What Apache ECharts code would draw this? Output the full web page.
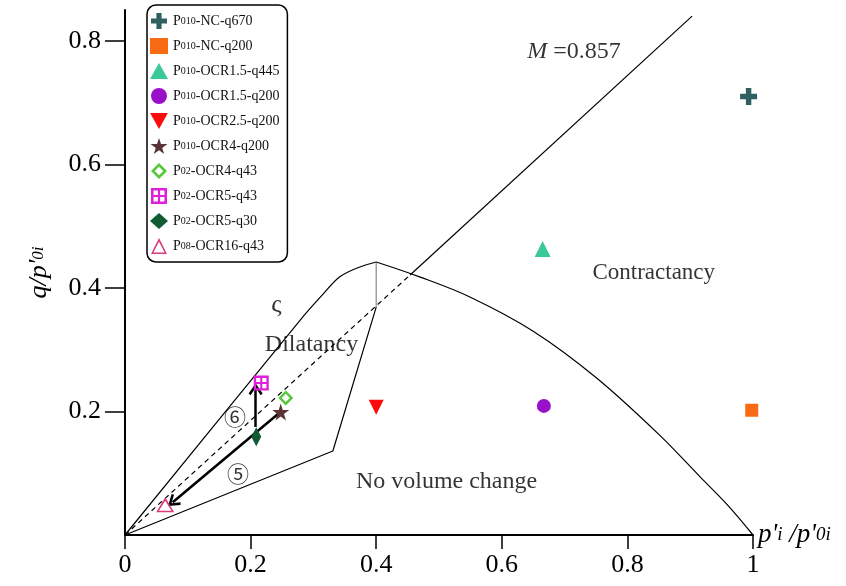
<!DOCTYPE html>
<html>
<head>
<meta charset="utf-8">
<script src="https://cdn.jsdelivr.net/npm/echarts@6/dist/echarts.min.js"></script>
<style>html,body{margin:0;padding:0;background:#fff;}#c{width:846px;height:586px;}</style>
</head>
<body>
<div id="c"></div>
<script>
// ---- data ----
const seriesNames = ['P010-NC-q670','P010-NC-q200','P010-OCR1.5-q445','P010-OCR1.5-q200','P010-OCR2.5-q200','P010-OCR4-q200','P02-OCR4-q43','P02-OCR5-q43','P02-OCR5-q30','P08-OCR16-q43'];
const seriesX = [0.993, 0.998, 0.665, 0.667, 0.400, 0.248, 0.256, 0.217, 0.209, 0.064];
const seriesY = [0.710, 0.202, 0.463, 0.209, 0.207, 0.199, 0.222, 0.246, 0.159, 0.049];
const xTicks = [0, 0.2, 0.4, 0.6, 0.8, 1];
const yTicks = [0.2, 0.4, 0.6, 0.8];
// critical state line M (dashed inside, solid outside)
const mLineX = [0, 0.454, 0.903];
const mLineY = [0, 0.421, 0.840];
// dilatancy zone boundary
const dilUpperX = [0, 0.279, 0.311, 0.342, 0.374, 0.400];
const dilUpperY = [0, 0.348, 0.385, 0.418, 0.434, 0.442];
const dilLowerX = [0, 0.331, 0.400];
const dilLowerY = [0, 0.136, 0.369];
const dilVertX = [0.400, 0.400];
const dilVertY = [0.369, 0.442];
// yield surface
const yieldX = [0.400, 0.469, 0.55, 0.65, 0.75, 0.85, 0.915, 0.96, 1.0];
const yieldY = [0.442, 0.418, 0.385, 0.330, 0.255, 0.163, 0.095, 0.048, 0.0];
// stress-path arrows [x1,y1,x2,y2]
const arrow5 = [0.246, 0.198, 0.076, 0.053];
const arrow6 = [0.208, 0.175, 0.208, 0.236];
// annotations
const annoText = ['M=0.857', 'Contractancy', 'Dilatancy', 'ς', 'No volume change', '⑥', '⑤'];
const annoX = [0.715, 0.842, 0.297, 0.241, 0.512, 0.175, 0.180];
const annoY = [0.782, 0.424, 0.308, 0.372, 0.086, 0.191, 0.100];

const serif = 'Liberation Serif, Times New Roman, serif';
const pair = (xs, ys) => xs.map((x, i) => [x, ys[i]]);

const symbols = [
  'path://M3.4,0 H6.6 V3.4 H10 V6.6 H6.6 V10 H3.4 V6.6 H0 V3.4 H3.4 Z',
  'rect',
  'triangle',
  'circle',
  'path://M0,0 L10,0 L5,9 Z',
  'path://M5,0 L6.18,3.62 L10,3.62 L6.91,5.85 L8.09,9.47 L5,7.24 L1.91,9.47 L3.09,5.85 L0,3.62 L3.82,3.62 Z',
  'path://M5,0 L10,5 L5,10 L0,5 Z M5,2.3 L2.3,5 L5,7.7 L7.7,5 Z',
  'path://M0,0 H10 V10 H0 Z M1.6,1.6 V4.3 H4.3 V1.6 Z M5.7,1.6 V4.3 H8.4 V1.6 Z M1.6,5.7 V8.4 H4.3 V5.7 Z M5.7,5.7 V8.4 H8.4 V5.7 Z',
  'diamond',
  'path://M5,0 L10,10 L0,10 Z M5,2.4 L1.5,9 L8.5,9 Z'
];
const sizes = [17, 13, 16, 14, 15, 17, 15, 15, [10, 19], [18, 15]];
const colors = ['#2f5f5f', '#f96a14', '#3cc99a', '#9810c8', '#fb0b0b', '#5a3434', '#55c83a', '#e020d8', '#0f5c33', '#db3b7c'];

const series = [];
seriesNames.forEach((n, i) => {
  series.push({
    type: 'scatter', name: n, data: [[seriesX[i], seriesY[i]]],
    symbol: symbols[i], symbolSize: sizes[i],
    itemStyle: { color: colors[i], opacity: 1 }, z: 5
  });
});
const lineBase = { type: 'line', symbol: 'none', silent: true, animation: false, smooth: false };
series.push(Object.assign({}, lineBase, { data: pair(mLineX.slice(0, 2), mLineY.slice(0, 2)), lineStyle: { color: '#000', width: 1.2, type: [5, 4] } }));
series.push(Object.assign({}, lineBase, { data: pair(mLineX.slice(1), mLineY.slice(1)), lineStyle: { color: '#000', width: 1.2 } }));
series.push(Object.assign({}, lineBase, { data: pair(dilUpperX, dilUpperY), smooth: 0.3, lineStyle: { color: '#000', width: 1.2 } }));
series.push(Object.assign({}, lineBase, { data: pair(dilLowerX, dilLowerY), lineStyle: { color: '#000', width: 1.2 } }));
series.push(Object.assign({}, lineBase, { data: pair(dilVertX, dilVertY), lineStyle: { color: '#888', width: 1.2 } }));
series.push(Object.assign({}, lineBase, { data: pair(yieldX, yieldY), smooth: 0.35, lineStyle: { color: '#000', width: 1.2 } }));

const chevron = 'path://M5,0 L10,7 L8.6,8.2 L5,3 L1.4,8.2 L0,7 Z';
series.push({
  type: 'scatter', data: [], silent: true,
  markLine: {
    silent: true, animation: false, symbol: ['none', chevron], symbolSize: [14, 12],
    label: { show: false },
    lineStyle: { color: '#000', width: 2.5, type: 'solid' },
    data: [
      [{ coord: [arrow5[0], arrow5[1]] }, { coord: [arrow5[2], arrow5[3]] }],
      [{ coord: [arrow6[0], arrow6[1]] }, { coord: [arrow6[2], arrow6[3]] }]
    ]
  }
});

const annoStyles = [
  { fontSize: 24, formatter: '{i|M} =0.857' },
  { fontSize: 23 },
  { fontSize: 24 },
  { fontSize: 26 },
  { fontSize: 24 },
  { fontSize: 22, fontFamily: 'Noto Sans CJK SC' },
  { fontSize: 22, fontFamily: 'Noto Sans CJK SC' }
];
series.push({
  type: 'scatter', symbolSize: 0, silent: true, z: 6,
  data: annoText.map((t, i) => ({
    name: t, value: [annoX[i], annoY[i]],
    label: Object.assign({
      show: true, position: 'inside', color: '#000', fontFamily: serif,
      formatter: '{b}',
      rich: { i: { fontStyle: 'italic', fontSize: 24, fontFamily: serif, color: '#000' } }
    }, annoStyles[i])
  }))
});

const chart = echarts.init(document.getElementById('c'), null, { renderer: 'canvas' });
chart.setOption({
  animation: false,
  backgroundColor: '#fff',
  grid: { left: 125, right: 93, top: 10, bottom: 51 },
  legend: {
    data: seriesNames, orient: 'vertical', left: 147, top: 5,
    padding: [8, 8, 8, 3], itemGap: 9, itemWidth: 18, itemHeight: 16,
    borderColor: '#000', borderWidth: 1.5, borderRadius: 9, backgroundColor: '#fff',
    formatter: function (name) {
      const m = name.match(/^P(\d+)(.*)$/);
      return '{a|P}{b|' + m[1] + '}{a|' + m[2] + '}';
    },
    textStyle: {
      color: '#111',
      rich: {
        a: { fontSize: 14, fontFamily: serif, color: '#111' },
        b: { fontSize: 10, fontFamily: serif, color: '#111' }
      }
    }
  },
  xAxis: {
    type: 'value', min: 0, max: 1, interval: 0.2,
    name: "{i|p'}{s|i}{i| /p'}{s|0i}", nameLocation: 'end', nameGap: 5,
    nameTextStyle: { rich: {
      i: { fontStyle: 'italic', fontSize: 27, fontFamily: serif, color: '#000' },
      s: { fontStyle: 'italic', fontSize: 19, fontFamily: serif, color: '#000' }
    } },
    axisLine: { lineStyle: { color: '#000', width: 2 } },
    axisTick: { show: true, inside: false, length: 14, lineStyle: { color: '#000', width: 1.5 } },
    axisLabel: { margin: 17, fontSize: 26, fontFamily: serif, color: '#000',
      formatter: v => (v === 0 ? '0' : v === 1 ? '1' : v.toFixed(1)) },
    splitLine: { show: false }
  },
  yAxis: {
    type: 'value', min: 0, max: 0.85,
    name: "{i|q/p'}{s|0i}", nameLocation: 'middle', nameRotate: 90, nameGap: 73,
    nameTextStyle: { rich: {
      i: { fontStyle: 'italic', fontSize: 26, fontFamily: serif, color: '#000' },
      s: { fontStyle: 'italic', fontSize: 17, fontFamily: serif, color: '#000' }
    } },
    axisLine: { lineStyle: { color: '#000', width: 2 } },
    axisTick: { show: true, inside: false, length: 20, customValues: yTicks, lineStyle: { color: '#000', width: 1.5 } },
    axisLabel: { margin: 24, fontSize: 26, fontFamily: serif, color: '#000', customValues: yTicks,
      formatter: v => v.toFixed(1) },
    splitLine: { show: false }
  },
  series: series
});
</script>
</body>
</html>
